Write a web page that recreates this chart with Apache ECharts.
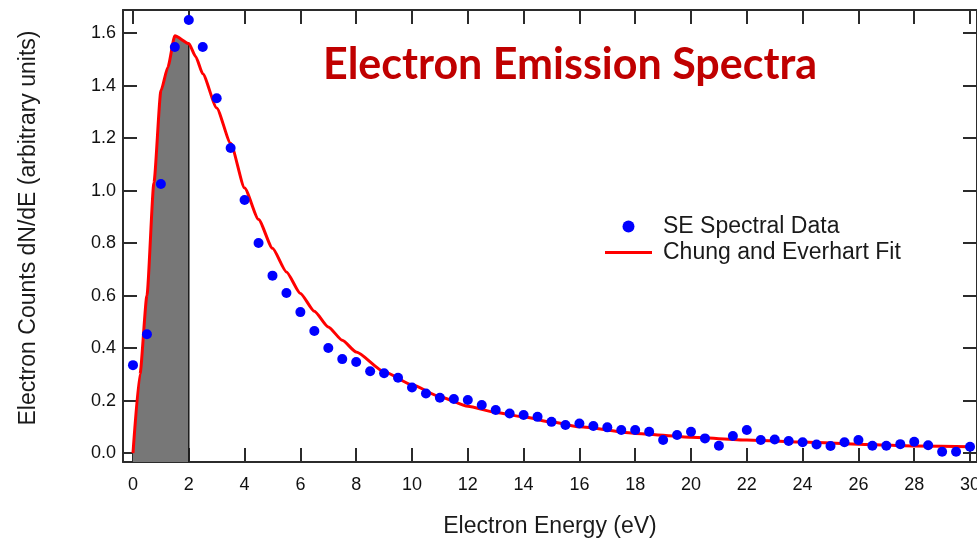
<!DOCTYPE html>
<html>
<head>
<meta charset="utf-8">
<title>Electron Emission Spectra</title>
<script src="https://cdn.jsdelivr.net/npm/echarts@6/dist/echarts.min.js"></script>
<style>
  html, body { margin: 0; padding: 0; background: #ffffff; }
  #chart { width: 977px; height: 539px; }
</style>
</head>
<body>
<div id="chart"></div>
<script>
// Measured secondary-electron spectrum (energy in eV, counts in arbitrary units)
const dataEnergy = [
  0, 0.5, 1, 1.5, 2, 2.5, 3, 3.5, 4, 4.5,
  5, 5.5, 6, 6.5, 7, 7.5, 8, 8.5, 9, 9.5,
  10, 10.5, 11, 11.5, 12, 12.5, 13, 13.5, 14, 14.5,
  15, 15.5, 16, 16.5, 17, 17.5, 18, 18.5, 19, 19.5,
  20, 20.5, 21, 21.5, 22, 22.5, 23, 23.5, 24, 24.5,
  25, 25.5, 26, 26.5, 27, 27.5, 28, 28.5, 29, 29.5, 30
];
const dataCounts = [
  0.335, 0.453, 1.025, 1.547, 1.650, 1.547, 1.352, 1.162, 0.964, 0.800,
  0.676, 0.610, 0.537, 0.465, 0.400, 0.358, 0.347, 0.312, 0.304, 0.287,
  0.250, 0.227, 0.211, 0.206, 0.202, 0.183, 0.164, 0.151, 0.145, 0.138,
  0.119, 0.107, 0.113, 0.103, 0.098, 0.088, 0.088, 0.081, 0.050, 0.069,
  0.081, 0.056, 0.028, 0.065, 0.088, 0.050, 0.052, 0.046, 0.041, 0.033,
  0.027, 0.041, 0.050, 0.028, 0.028, 0.034, 0.043, 0.030, 0.005, 0.005, 0.024
];

// Chung and Everhart fit curve
const fitEnergy = [
  0, 0.25, 0.5, 0.75, 1.0, 1.25, 1.5, 2.0, 2.25, 2.5,
  3.0, 3.5, 4.0, 4.5, 5.0, 5.5, 6.0, 6.5, 7.0, 7.5,
  8.0, 9.0, 10, 11, 12, 13, 14, 15, 16, 18,
  20, 22, 24, 26, 28, 30
];
const fitCounts = [
  0.000, 0.300, 0.600, 1.030, 1.380, 1.470, 1.590, 1.560, 1.510, 1.445,
  1.315, 1.180, 1.010, 0.890, 0.780, 0.690, 0.608, 0.540, 0.480, 0.430,
  0.385, 0.310, 0.260, 0.215, 0.178, 0.155, 0.138, 0.118, 0.100, 0.075,
  0.060, 0.050, 0.042, 0.034, 0.027, 0.024
];

// Shaded low-energy band upper edge (eV)
const bandEnd = 2;

// Axis tick positions and labels
const xTicks = [0, 2, 4, 6, 8, 10, 12, 14, 16, 18, 20, 22, 24, 26, 28, 30];
const yTicks = [0, 0.2, 0.4, 0.6, 0.8, 1.0, 1.2, 1.4, 1.6];

const X_MIN = -0.358, X_MAX = 30.25;
const Y_MIN = -0.034, Y_MAX = 1.688;

const pairs = (xs, ys) => xs.map((x, i) => [x, ys[i]]);
const fitPairs = pairs(fitEnergy, fitCounts);
const bandPairs = fitPairs.filter(p => p[0] <= bandEnd);
const bandTop = fitCounts[fitEnergy.indexOf(bandEnd)];

const axisColor = '#2b2b2b';
const labelFont = 'Liberation Sans, Arial, sans-serif';

const baseX = {
  type: 'value', min: X_MIN, max: X_MAX,
  splitLine: { show: false },
  axisLine: { show: true, onZero: false, lineStyle: { color: axisColor, width: 2 } },
  axisTick: { show: true, inside: true, length: 14, customValues: xTicks,
              lineStyle: { color: axisColor, width: 2 } }
};
const baseY = {
  type: 'value', min: Y_MIN, max: Y_MAX,
  splitLine: { show: false },
  axisLine: { show: true, onZero: false, lineStyle: { color: axisColor, width: 2 } },
  axisTick: { show: true, inside: true, length: 14, customValues: yTicks,
              lineStyle: { color: axisColor, width: 2 } }
};

const chart = echarts.init(document.getElementById('chart'), null, { renderer: 'canvas' });

chart.setOption({
  animation: false,
  backgroundColor: '#ffffff',
  title: {
    text: 'Electron Emission Spectra',
    left: 565, top: 39, textAlign: 'center',
    textStyle: { fontFamily: 'Lato, sans-serif', fontWeight: 'bold', fontSize: 43, color: '#C00000' }
  },
  legend: {
    orient: 'vertical',
    left: 605, top: 215, padding: 0,
    itemWidth: 47, itemHeight: 12, itemGap: 3,
    textStyle: { fontFamily: labelFont, fontSize: 23, color: '#1a1a1a', padding: [0, 0, 0, 6] },
    data: [
      { name: 'SE Spectral Data', icon: 'circle' },
      { name: 'Chung and Everhart Fit', icon: 'path://M0,0 L47,0 L47,3 L0,3 Z' }
    ]
  },
  grid: { left: 123, right: 0, top: 10, bottom: 77, containLabel: false, outerBoundsMode: 'none' },
  xAxis: [
    Object.assign({}, baseX, {
      position: 'bottom',
      name: 'Electron Energy (eV)', nameLocation: 'middle', nameGap: 53,
      nameTextStyle: { fontFamily: labelFont, fontSize: 23, color: '#1a1a1a' },
      axisLabel: { show: true, customValues: xTicks, margin: 14,
                   fontFamily: labelFont, fontSize: 18, color: '#111111' }
    }),
    Object.assign({}, baseX, { position: 'top', axisLabel: { show: false } })
  ],
  yAxis: [
    Object.assign({}, baseY, {
      position: 'left',
      name: 'Electron Counts dN/dE (arbitrary units)', nameLocation: 'middle',
      nameRotate: 90, nameGap: 83,
      nameTextStyle: { fontFamily: labelFont, fontSize: 23, color: '#1a1a1a', padding: [0, 0, 0, 16] },
      axisLabel: { show: true, customValues: yTicks, margin: 7,
                   fontFamily: labelFont, fontSize: 18, color: '#111111',
                   formatter: v => v.toFixed(1) }
    }),
    Object.assign({}, baseY, { position: 'right', axisLabel: { show: false } })
  ],
  series: [
    {
      name: 'band',
      type: 'line',
      data: bandPairs,
      symbol: 'none',
      lineStyle: { width: 0 },
      areaStyle: { color: '#777777', opacity: 1, origin: 'start' },
      silent: true, z: 1
    },
    {
      name: 'bandEdge',
      type: 'line',
      data: [[bandEnd, Y_MIN], [bandEnd, bandTop]],
      symbol: 'none',
      lineStyle: { color: '#1a1a1a', width: 1.5 },
      silent: true, z: 2
    },
    {
      name: 'Chung and Everhart Fit',
      type: 'line',
      data: fitPairs,
      symbol: 'none',
      smooth: 0.2,
      smoothMonotone: 'x',
      lineStyle: { color: '#ff0000', width: 3 },
      itemStyle: { color: '#ff0000' },
      z: 3
    },
    {
      name: 'SE Spectral Data',
      type: 'scatter',
      data: pairs(dataEnergy, dataCounts),
      symbol: 'circle',
      symbolSize: 10,
      itemStyle: { color: '#0000ff', opacity: 1 },
      z: 4
    }
  ]
});
</script>
</body>
</html>
